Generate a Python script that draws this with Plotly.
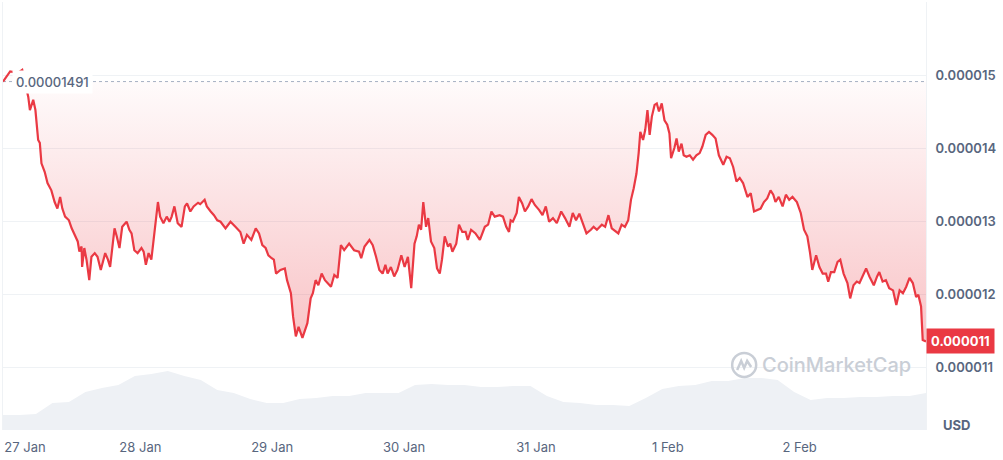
import pandas as pd
import plotly.graph_objects as go

# hours since 26 Jan 23:00 and price (in millionths of a USD)
price_hours = [
    0.0, 0.9, 1.3, 2.7, 3.5, 4.6, 4.9, 5.5, 5.9, 6.4, 6.7, 7.0, 7.6, 8.1, 8.8, 9.4, 9.9,
    10.4, 10.8, 11.3, 12.0, 12.5, 13.1, 13.6, 13.9, 14.3, 14.4, 14.8, 15.2, 15.7, 16.1,
    16.7, 17.2, 17.8, 18.6, 19.1, 19.5, 19.8, 20.3, 20.7, 21.2, 21.7, 22.5, 23.0, 23.4,
    23.9, 24.5, 25.2, 25.6, 26.0, 26.5, 27.0, 27.4, 28.2, 28.6, 29.2, 29.8, 30.3, 30.7,
    31.2, 31.8, 32.5, 33.1, 33.5, 34.1, 34.7, 35.5, 35.9, 36.7, 37.1, 37.8, 38.4, 39.0,
    39.6, 40.5, 41.4, 42.3, 43.2, 43.8, 44.4, 45.2, 46.0, 46.6, 47.2, 47.8, 48.3, 48.9,
    49.3, 49.7, 50.5, 51.3, 51.7, 52.4, 52.8, 53.3, 53.8, 54.5, 55.1, 55.4, 56.0, 56.4,
    56.9, 57.4, 58.0, 58.6, 59.7, 60.3, 60.9, 61.5, 62.1, 63.0, 63.9, 64.8, 65.2, 65.8,
    66.7, 67.3, 67.9, 68.5, 69.1, 69.6, 70.0, 70.6, 71.2, 71.8, 72.5, 73.1, 73.7, 74.3,
    74.9, 75.3, 75.7, 76.1, 76.5, 77.0, 77.4, 77.9, 78.5, 79.0, 79.5, 79.9, 80.4, 81.0,
    81.4, 81.8, 82.5, 83.0, 83.6, 84.2, 84.6, 85.2, 86.0, 86.8, 87.7, 88.3, 88.9, 89.5,
    90.4, 91.0, 91.6, 92.1, 92.4, 92.8, 93.5, 93.9, 94.5, 95.0, 95.6, 96.2, 96.8, 97.6,
    98.2, 98.8, 99.4, 100.1, 100.8, 101.6, 102.3, 103.1, 103.7, 104.3, 104.9, 105.5,
    106.2, 107.0, 107.5, 108.1, 109.0, 109.6, 110.2, 110.8, 111.6, 112.0, 112.6, 113.2,
    113.8, 114.3, 114.8, 115.3, 115.7, 116.0, 116.5, 116.9, 117.3, 117.7, 118.1, 118.6,
    119.0, 119.4, 119.9, 120.4, 120.9, 121.3, 121.6, 122.2, 122.6, 123.0, 123.5, 123.9,
    124.4, 125.0, 125.6, 126.2, 126.8, 127.3, 127.9, 128.5, 129.1, 129.7, 130.3, 131.1,
    131.7, 132.3, 132.9, 133.5, 134.1, 134.7, 135.5, 136.1, 136.7, 137.3, 137.9, 138.5,
    139.1, 139.7, 140.2, 140.6, 141.2, 141.9, 142.5, 143.1, 143.7, 144.5, 145.2, 145.8,
    146.4, 146.9, 147.3, 148.0, 148.6, 149.2, 149.8, 150.2, 150.7, 151.3, 151.9, 152.4,
    153.0, 153.7, 154.2, 154.8, 155.4, 155.9, 156.5, 157.1, 157.7, 158.5, 159.1, 159.5,
    160.1, 160.7, 161.3, 162.0, 162.6, 163.2, 163.8, 164.4, 165.0, 165.6, 166.2, 166.6,
    167.1, 167.4, 168.0,
]
price_micro = [
    14.91, 15.02, 15.05, 15.03, 15.07, 14.70, 14.52, 14.66, 14.52, 14.11, 14.07, 13.79,
    13.67, 13.52, 13.42, 13.26, 13.17, 13.33, 13.17, 13.06, 13.01, 12.90, 12.79, 12.72,
    12.58, 12.65, 12.37, 12.63, 12.47, 12.19, 12.51, 12.56, 12.51, 12.33, 12.56, 12.47,
    12.37, 12.60, 12.90, 12.79, 12.63, 12.92, 12.99, 12.88, 12.83, 12.60, 12.56, 12.63,
    12.58, 12.40, 12.56, 12.47, 12.74, 13.26, 13.06, 12.97, 13.06, 12.99, 13.06, 13.20,
    12.97, 12.92, 13.20, 13.24, 13.13, 13.20, 13.25, 13.23, 13.29, 13.20, 13.13, 13.08,
    13.01, 12.99, 12.90, 12.99, 12.92, 12.85, 12.69, 12.81, 12.74, 12.90, 12.83, 12.67,
    12.63, 12.53, 12.49, 12.47, 12.28, 12.33, 12.35, 12.19, 12.01, 11.69, 11.42, 11.55,
    11.40, 11.55, 11.60, 11.94, 12.01, 12.19, 12.12, 12.28, 12.19, 12.10, 12.26, 12.22,
    12.67, 12.60, 12.69, 12.60, 12.58, 12.49, 12.65, 12.74, 12.67, 12.51, 12.33, 12.28,
    12.40, 12.28, 12.37, 12.24, 12.33, 12.53, 12.37, 12.51, 12.08, 12.69, 12.79, 12.95,
    12.88, 13.26, 12.92, 13.04, 12.72, 12.63, 12.35, 12.28, 12.47, 12.79, 12.65, 12.69,
    12.58, 12.69, 12.95, 12.85, 12.85, 12.74, 12.88, 12.83, 12.74, 12.92, 12.95, 13.13,
    13.06, 13.08, 13.06, 12.92, 12.85, 13.01, 12.99, 13.11, 13.33, 13.24, 13.13, 13.20,
    13.30, 13.22, 13.15, 13.08, 13.20, 12.99, 13.04, 12.97, 13.13, 13.04, 12.92, 13.11,
    13.01, 13.10, 12.97, 12.83, 12.88, 12.92, 12.88, 12.95, 12.92, 13.08, 12.90, 12.85,
    12.83, 12.95, 12.92, 13.01, 13.29, 13.45, 13.65, 13.93, 14.22, 14.11, 14.25, 14.52,
    14.18, 14.43, 14.59, 14.61, 14.50, 14.61, 14.38, 14.32, 14.20, 13.86, 14.00, 14.13,
    13.95, 14.06, 13.90, 13.88, 13.90, 13.84, 13.90, 13.93, 14.02, 14.18, 14.22, 14.18,
    14.13, 13.90, 13.77, 13.88, 13.86, 13.74, 13.54, 13.59, 13.52, 13.33, 13.38, 13.13,
    13.15, 13.17, 13.26, 13.31, 13.42, 13.36, 13.26, 13.33, 13.20, 13.36, 13.29, 13.33,
    13.26, 13.11, 12.88, 12.79, 12.56, 12.33, 12.53, 12.37, 12.28, 12.28, 12.17, 12.30,
    12.30, 12.44, 12.47, 12.28, 12.15, 11.94, 12.12, 12.17, 12.15, 12.26, 12.35, 12.24,
    12.12, 12.24, 12.30, 12.17, 12.19, 12.08, 12.05, 11.85, 12.05, 12.01, 12.10, 12.22,
    12.15, 11.96, 11.99, 11.83, 11.37, 11.35,
]

# 24h volume, sampled every 3 hours (relative units)
vol_hours = list(range(0, 169, 3))
volume = [
    15, 15, 16, 27, 28, 38, 42, 45, 54, 56, 59, 54, 50, 40, 37, 31, 27, 27, 31, 32,
    34, 34, 37, 37, 37, 45, 46, 45, 45, 43, 43, 44, 44, 34, 28, 27, 25, 25, 24, 32,
    41, 44, 45, 49, 49, 52, 52, 50, 38, 30, 32, 32, 33, 33, 34, 34, 37,
]

open_price = 0.00001491
last_label = "0.000011"
tick_vals = [11e-6, 12e-6, 13e-6, 14e-6, 15e-6, 16e-6]
tick_text = ["0.000011", "0.000012", "0.000013", "0.000014", "0.000015", ""]
date_ticks = ["2025-01-27 03:00", "2025-01-28", "2025-01-29", "2025-01-30",
              "2025-01-31", "2025-02-01", "2025-02-02"]
date_text = ["27 Jan", "28 Jan", "29 Jan", "30 Jan", "31 Jan", "1 Feb", "2 Feb"]

start = pd.Timestamp("2025-01-26 23:00")
t_price = start + pd.to_timedelta(price_hours, unit="h")
t_vol = start + pd.to_timedelta(vol_hours, unit="h")
price = [v * 1e-6 for v in price_micro]
end = start + pd.Timedelta(hours=168)

red = "#ea3943"
grey = "#58667e"
grid = "#eff2f5"

fig = go.Figure()

fig.add_trace(
    go.Scatter(
        x=t_vol,
        y=volume,
        mode="lines",
        line=dict(width=0),
        fill="tozeroy",
        fillcolor="#eef1f5",
        yaxis="y2",
        hoverinfo="skip",
    )
)

fig.add_trace(
    go.Scatter(
        x=[start, end],
        y=[open_price, open_price],
        mode="lines",
        line=dict(color="#a6b0c3", width=1, dash="dot"),
        hoverinfo="skip",
    )
)

fig.add_trace(
    go.Scatter(
        x=t_price,
        y=price,
        mode="lines",
        line=dict(color=red, width=2.2),
        fill="tonexty",
        fillgradient=dict(
            type="vertical",
            colorscale=[[0, "rgba(234,57,67,0.30)"], [1, "rgba(234,57,67,0.02)"]],
            start=min(price),
            stop=open_price,
        ),
    )
)

fig.add_annotation(
    x=0.01, xref="paper", y=open_price, yref="y",
    text="0.00001491", showarrow=False, xanchor="left", yanchor="middle",
    bgcolor="white", borderpad=3,
    font=dict(size=13, color=grey, weight=500),
)

fig.add_annotation(
    x=1, xref="paper", y=price[-1], yref="y",
    text=last_label, showarrow=False, xanchor="left", yanchor="middle",
    bgcolor=red, borderpad=4,
    font=dict(size=13, color="white", weight=700),
)

fig.add_annotation(
    x=1.033, xref="paper", y=0.012, yref="paper",
    text="USD", showarrow=False, xanchor="center", yanchor="middle",
    font=dict(size=13, color=grey, weight=700),
)

# watermark
fig.add_annotation(
    x=0.82, xref="paper", y=0.152, yref="paper",
    text="CoinMarketCap", showarrow=False, xanchor="left", yanchor="middle",
    font=dict(size=20, color="#c9ced6", weight=500),
)
fig.add_shape(
    type="circle", xref="paper", yref="paper",
    xsizemode="pixel", ysizemode="pixel", xanchor=0.803, yanchor=0.152,
    x0=-12, x1=12, y0=-12, y1=12,
    line=dict(color="#c9ced6", width=2.5),
)
fig.add_shape(
    type="path", xref="paper", yref="paper",
    xsizemode="pixel", ysizemode="pixel", xanchor=0.803, yanchor=0.152,
    path="M -7,-5 L -3,4 L 0,-3 L 3,4 L 7,-2",
    line=dict(color="#c9ced6", width=2.5),
)

fig.update_layout(
    width=1003,
    height=460,
    margin=dict(l=3, r=77, t=2, b=30),
    paper_bgcolor="white",
    plot_bgcolor="white",
    showlegend=False,
    font=dict(family="Inter, Noto Sans, sans-serif", color=grey),
    xaxis=dict(
        type="date",
        range=[start, end],
        tickvals=date_ticks,
        ticktext=date_text,
        showgrid=False,
        zeroline=False,
        ticks="",
        ticklabelstandoff=8,
        tickfont=dict(size=13, color=grey),
    ),
    yaxis=dict(
        side="right",
        range=[10.137e-6, 16.0e-6],
        tickvals=tick_vals,
        ticktext=tick_text,
        showgrid=True,
        gridcolor=grid,
        gridwidth=1,
        zeroline=False,
        showline=True,
        mirror=True,
        linecolor=grid,
        ticks="",
        ticklabelstandoff=6,
        tickfont=dict(size=13, color=grey, weight=600),
    ),
    yaxis2=dict(
        overlaying="y",
        range=[0, 428],
        visible=False,
    ),
)

fig.write_html(
    "out.html",
    config={"displayModeBar": False},
    post_script="document.body.style.margin='0';",
)
